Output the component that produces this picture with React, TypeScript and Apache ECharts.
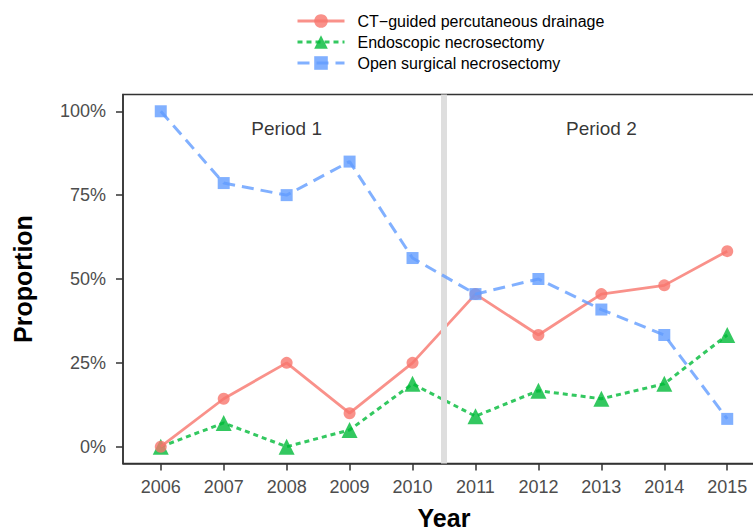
import React, { useEffect, useRef } from "react";
import * as echarts from "echarts";

const years = [2006, 2007, 2008, 2009, 2010, 2011, 2012, 2013, 2014, 2015];
const ctValues = [0, 0.143, 0.25, 0.1, 0.25, 0.455, 0.333, 0.455, 0.481, 0.583];
const endoValues = [0, 0.071, 0, 0.05, 0.1875, 0.091, 0.167, 0.143, 0.1875, 0.333];
const openValues = [1, 0.786, 0.75, 0.85, 0.5625, 0.455, 0.5, 0.409, 0.333, 0.083];
const yTicks = [0, 0.25, 0.5, 0.75, 1];
const seriesNames = [
  "CT\u2212guided percutaneous drainage",
  "Endoscopic necrosectomy",
  "Open surgical necrosectomy",
];
const periodNames = ["Period 1", "Period 2"];
const periodYears = [2008, 2013];
const periodLevel = 0.95;
const dividerYear = 2010.5;

const FONT = "'Liberation Sans', Arial, Helvetica, sans-serif";

export default function App() {
  const ref = useRef<HTMLDivElement>(null);
  useEffect(() => {
    if (!ref.current) return;
    const chart = echarts.init(ref.current, undefined, { renderer: "svg" });
    const pair = (vals: number[]) => years.map((y, i) => [y, vals[i]]);
    chart.setOption({
      animation: false,
      backgroundColor: "#ffffff",
      textStyle: { fontFamily: FONT },
      grid: {
        left: 123,
        top: 94.5,
        width: 642,
        height: 369,
        show: true,
        outerBoundsMode: "none",
        containLabel: false,
        borderColor: "#333333",
        borderWidth: 1.5,
        backgroundColor: "transparent",
      },
      legend: {
        orient: "vertical",
        left: 291,
        top: 8,
        itemWidth: 47,
        itemHeight: 17,
        itemGap: 5,
        data: seriesNames,
        lineStyle: { width: 3 },
        textStyle: { fontSize: 16, color: "#000", fontFamily: FONT, padding: [0, 0, 0, 8] },
      },
      xAxis: {
        type: "value",
        min: 2005.4,
        max: 2015.6,
        name: "Year",
        nameLocation: "middle",
        nameGap: 42,
        nameTextStyle: { fontSize: 25, fontWeight: "bold", color: "#000", fontFamily: FONT },
        axisLine: { show: true, onZero: false, lineStyle: { color: "#333333", width: 1.5 } },
        axisTick: { show: true, customValues: years, length: 7, lineStyle: { color: "#333333", width: 1.5 } },
        axisLabel: {
          customValues: years,
          fontSize: 18,
          color: "#4d4d4d",
          margin: 14,
          fontFamily: FONT,
          formatter: (v: number) => String(v),
        },
        splitLine: { show: false },
      },
      yAxis: {
        type: "value",
        min: -0.05,
        max: 1.05,
        name: "Proportion",
        nameLocation: "middle",
        nameGap: 88,
        nameTextStyle: { fontSize: 25, fontWeight: "bold", color: "#000", fontFamily: FONT },
        axisLine: { show: true, onZero: false, lineStyle: { color: "#333333", width: 1.5 } },
        axisTick: { show: true, customValues: yTicks, length: 7, lineStyle: { color: "#333333", width: 1.5 } },
        axisLabel: {
          customValues: yTicks,
          fontSize: 18,
          color: "#4d4d4d",
          margin: 17,
          fontFamily: FONT,
          formatter: (v: number) => Math.round(v * 100) + "%",
        },
        splitLine: { show: false },
      },
      series: [
        {
          name: "divider",
          type: "line",
          data: [],
          z: 1,
          silent: true,
          markLine: {
            silent: true,
            symbol: ["none", "none"],
            label: { show: false },
            lineStyle: { color: "#dedede", width: 6, type: "solid" },
            data: [{ xAxis: dividerYear }],
          },
        },
        {
          name: seriesNames[1],
          type: "line",
          z: 3,
          data: pair(endoValues),
          symbol: "triangle",
          symbolSize: 16,
          lineStyle: { color: "#00BA38", width: 3, type: [5, 4], opacity: 0.8 },
          itemStyle: { color: "#00BA38", opacity: 0.8 },
        },
        {
          name: seriesNames[0],
          type: "line",
          z: 4,
          data: pair(ctValues),
          symbol: "circle",
          symbolSize: 12,
          lineStyle: { color: "#F8766D", width: 2.8, type: "solid", opacity: 0.8 },
          itemStyle: { color: "#F8766D", opacity: 0.8 },
        },
        {
          name: seriesNames[2],
          type: "line",
          z: 5,
          data: pair(openValues),
          symbol: "rect",
          symbolSize: 12,
          lineStyle: { color: "#619CFF", width: 3, type: [12, 7], opacity: 0.8 },
          itemStyle: { color: "#619CFF", opacity: 0.8 },
        },
        {
          name: "periods",
          type: "scatter",
          z: 6,
          silent: true,
          symbolSize: 0,
          data: periodNames.map((n, i) => ({ name: n, value: [periodYears[i], periodLevel] })),
          label: {
            show: true,
            position: "inside",
            formatter: (p: any) => p.name,
            fontSize: 19,
            color: "#000",
            fontFamily: FONT,
          },
        },
      ],
    });
    return () => chart.dispose();
  }, []);
  return (
    <div
      ref={ref}
      style={{ position: "fixed", left: 0, top: 0, width: 753, height: 532, background: "#fff" }}
    />
  );
}
